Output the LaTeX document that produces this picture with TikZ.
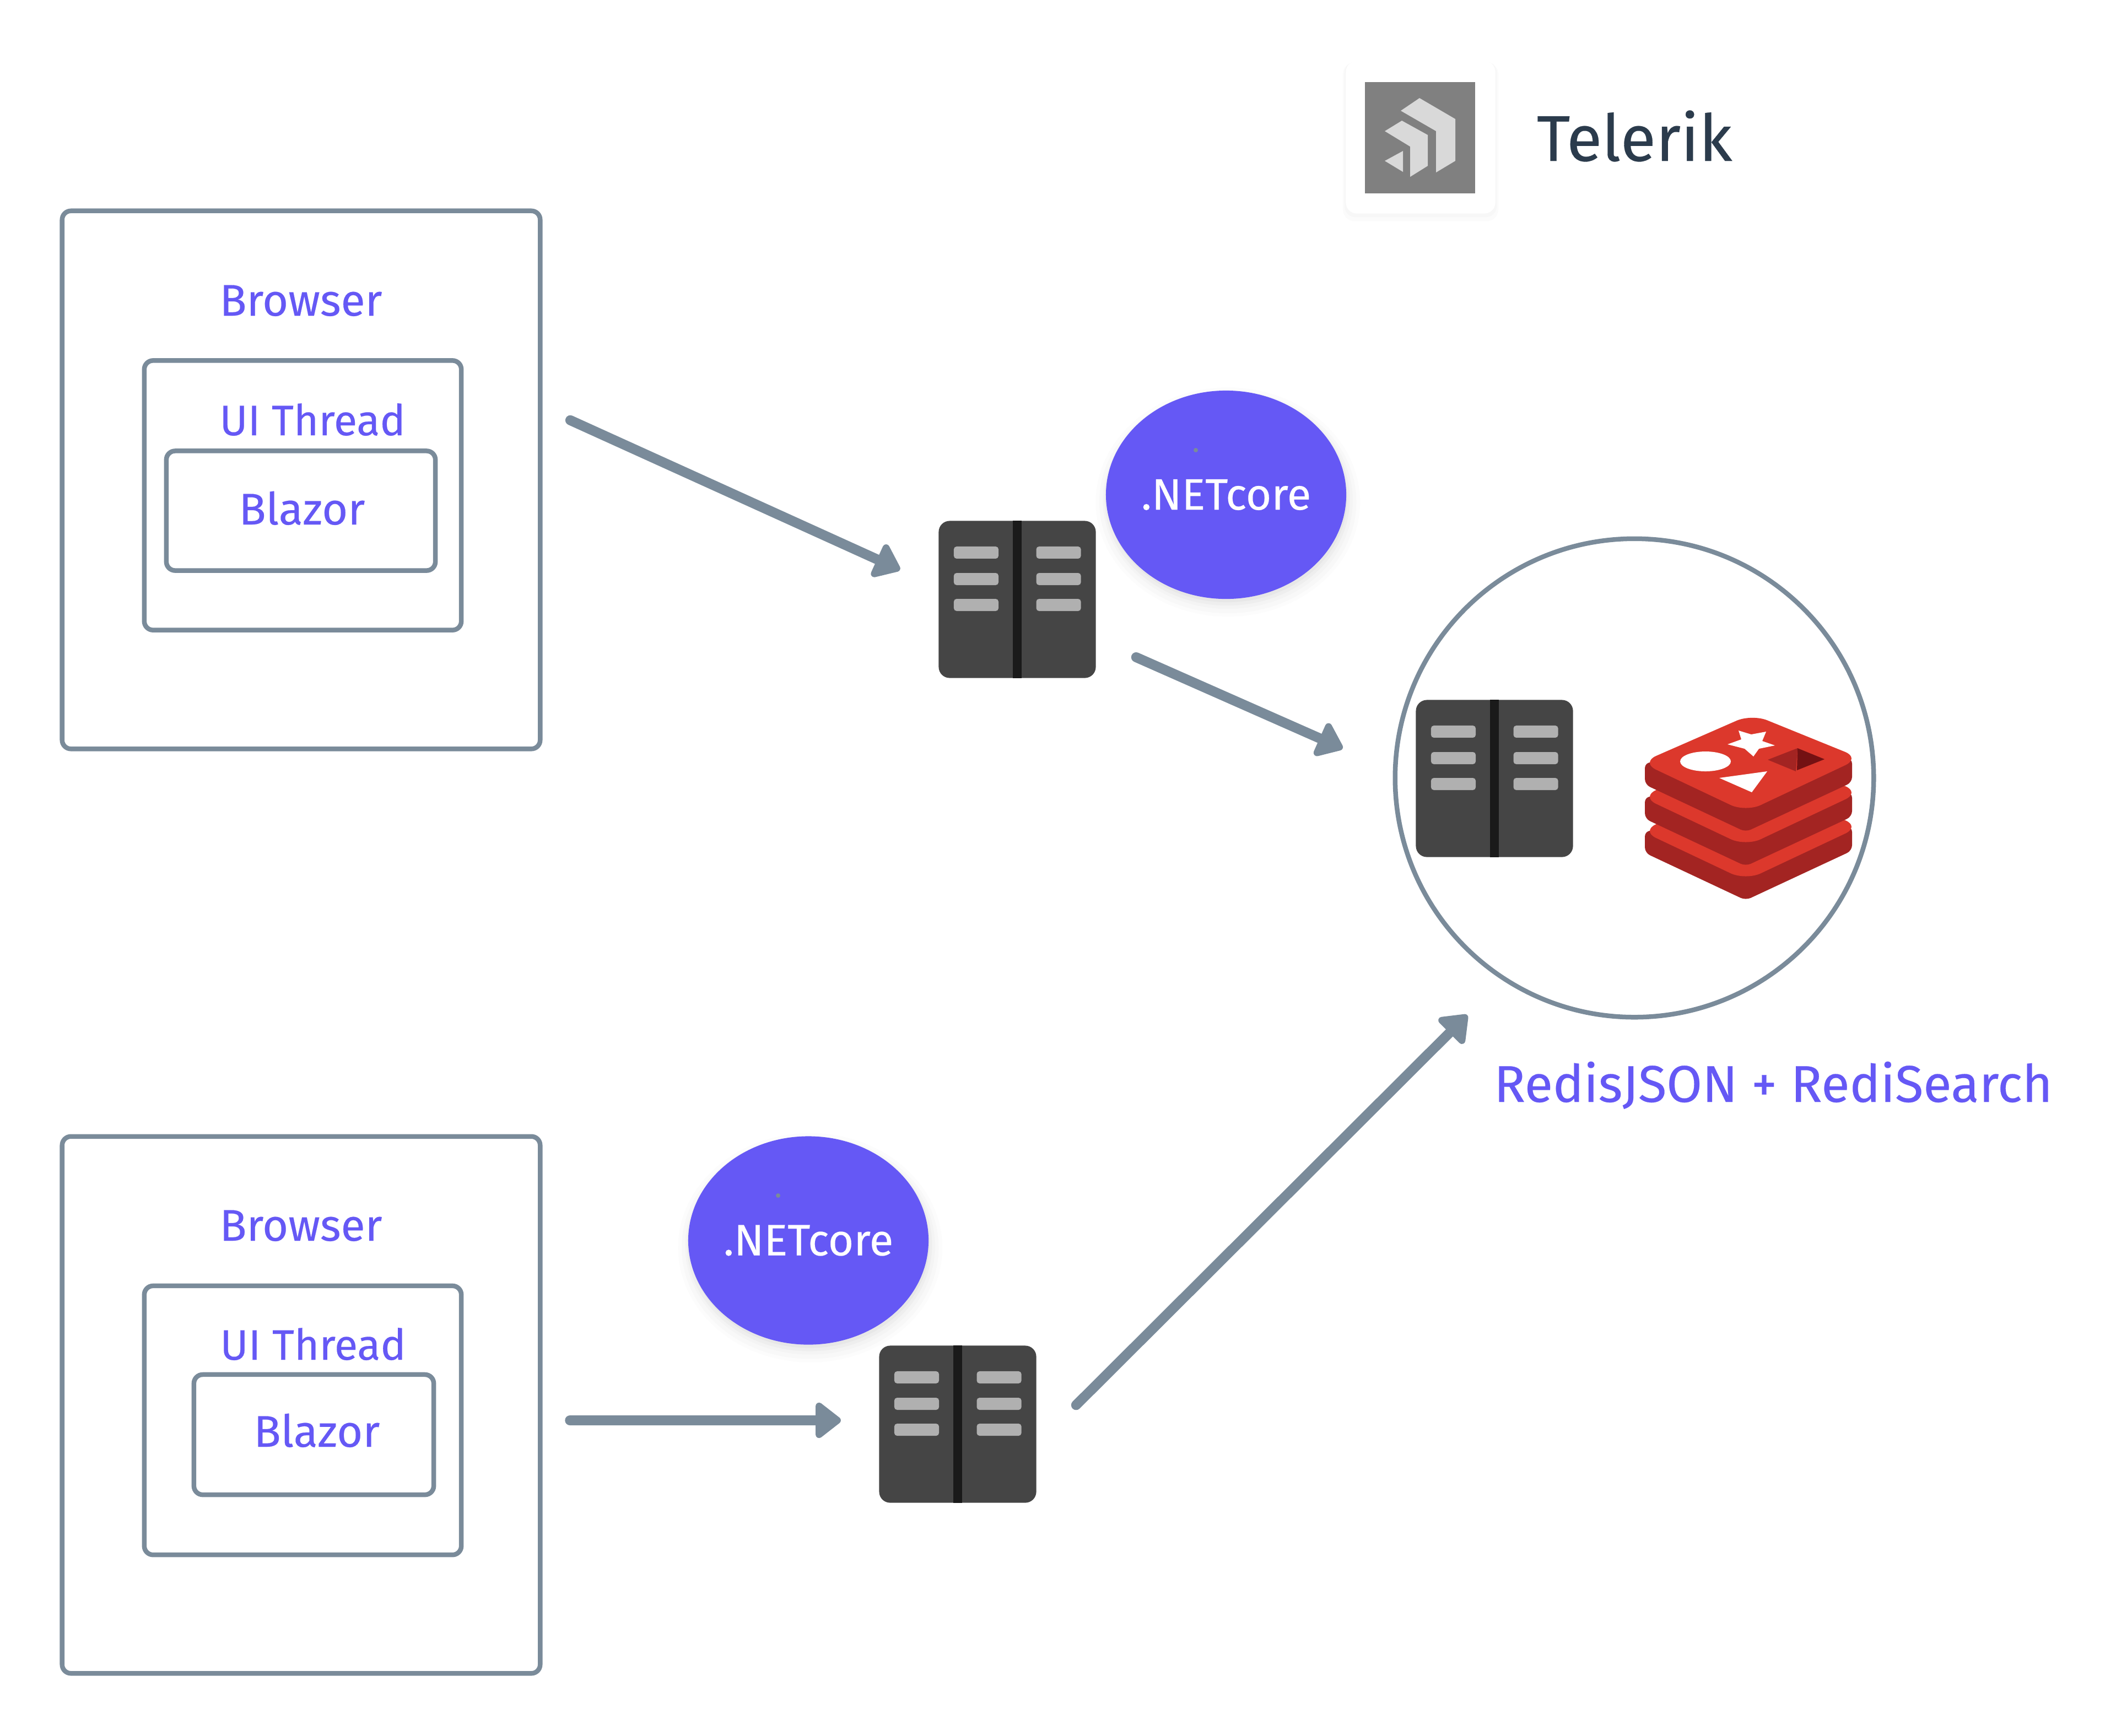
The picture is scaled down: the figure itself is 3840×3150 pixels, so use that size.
\documentclass[tikz,border=0pt]{standalone}
\usepackage{fontspec}
\setmainfont[FakeBold=0.25]{Fira Sans}
\usetikzlibrary{arrows.meta,shapes.geometric,shadows}

\definecolor{slate}{HTML}{7A8B9A}
\definecolor{violet}{HTML}{6558F5}
\definecolor{rackbody}{HTML}{454545}
\definecolor{rackdark}{HTML}{1A1A1A}
\definecolor{rackgrey}{HTML}{B0B0B0}
\definecolor{redisred}{HTML}{DC382C}
\definecolor{redisdark}{HTML}{A32422}
\definecolor{redisdeep}{HTML}{741113}
\definecolor{ink}{HTML}{2B3B4C}

\tikzset{
  box/.style={draw=slate, line width=0.085cm, rounded corners=0.16cm, outer sep=0pt, inner sep=0pt},
  label/.style={text=violet, font=\fontsize{22.9}{26}\selectfont, inner sep=0pt},
  threadlabel/.style={label, font=\fontsize{22}{26}\selectfont},
  softshadow/.style={
    drop shadow={shadow xshift=0.03cm, shadow yshift=-0.12cm, opacity=0.025, shadow scale=1.1},
    drop shadow={shadow xshift=0.03cm, shadow yshift=-0.12cm, opacity=0.03, shadow scale=1.07},
    drop shadow={shadow xshift=0.03cm, shadow yshift=-0.1cm, opacity=0.04, shadow scale=1.04},
    drop shadow={shadow xshift=0.02cm, shadow yshift=-0.08cm, opacity=0.05, shadow scale=1.02},
    drop shadow={shadow xshift=0.02cm, shadow yshift=-0.06cm, opacity=0.06}},
  netcore/.style={ellipse, fill=violet, text=white, font=\fontsize{22.7}{26}\selectfont,
    minimum width=4.34cm, minimum height=3.78cm, inner sep=0pt, outer sep=0pt, softshadow},
  rack/.style={fill=rackbody, rounded corners=0.2cm, minimum width=2.85cm, minimum height=2.85cm,
    inner sep=0pt, outer sep=0pt},
  flow/.style={draw=slate, line width=0.18cm, line cap=round,
    -{Triangle[length=0.5cm, width=0.74cm, round]}},
}

\newcommand{\rackslots}[1]{%
  \fill[rackdark] ([xshift=-0.08cm]#1.north) rectangle ([xshift=0.08cm]#1.south);
  \foreach \sx in {-0.745,0.75} \foreach \sy in {0.85,0.37,-0.1}
    \fill[rackgrey, rounded corners=0.05cm]
      ([xshift=\sx cm-0.405cm, yshift=\sy cm-0.11cm]#1.center) rectangle
      ([xshift=\sx cm+0.405cm, yshift=\sy cm+0.11cm]#1.center);
}

\begin{document}
\begin{tikzpicture}[x=0.01cm, y=-0.01cm]
  \useasboundingbox (0,0) rectangle (3840,3150);

  % telerik card
  \node[fill=white, rounded corners=0.2cm, minimum width=2.71cm, minimum height=2.77cm, inner sep=0pt,
    drop shadow={shadow xshift=0cm, shadow yshift=-0.08cm, opacity=0.03, shadow scale=1.04},
    drop shadow={shadow xshift=0cm, shadow yshift=-0.04cm, opacity=0.03, shadow scale=1.02}]
    (card) at (2578,249) {};
  \node[fill=black!50, minimum width=1.99cm, minimum height=2.01cm, inner sep=0pt] (mark) at (2577,250) {};
  \fill[black!15] (2576,178) -- (2641,216) -- (2641,292) -- (2606,313) -- (2606,238) -- (2542,201) -- cycle;
  \fill[black!15] (2544,219) -- (2591,245) -- (2591,301) -- (2559,321) -- (2559,266) -- (2513,238) -- cycle;
  \fill[black!15] (2546,274) -- (2513,292) -- (2546,312) -- cycle;
  \node[anchor=base west, text=ink, font=\fontsize{33.4}{40}\selectfont, inner sep=0pt] (telerik) at (2788,292) {Telerik};

  % first browser
  \node[box, minimum width=8.67cm, minimum height=9.76cm] (browserA) at (546.5,871) {};
  \node[box, minimum width=5.75cm, minimum height=4.89cm] (threadA) at (549.5,899) {};
  \node[box, minimum width=4.88cm, minimum height=2.17cm] (blazorA) at (546,927) {};
  \node[label, anchor=base] (browserTextA) at (546,573) {Browser};
  \node[threadlabel, anchor=base] (threadTextA) at (567,790) {UI Thread};
  \node[label, anchor=base] (blazorTextA) at (548,952) {Blazor};

  % second browser
  \node[box, minimum width=8.67cm, minimum height=9.74cm] (browserB) at (546.5,2550) {};
  \node[box, minimum width=5.75cm, minimum height=4.88cm] (threadB) at (549.5,2578) {};
  \node[box, minimum width=4.35cm, minimum height=2.18cm] (blazorB) at (569.5,2604) {};
  \node[label, anchor=base] (browserTextB) at (546,2252) {Browser};
  \node[threadlabel, anchor=base] (threadTextB) at (568,2468) {UI Thread};
  \node[label, anchor=base] (blazorTextB) at (575,2626) {Blazor};

  % servers
  \node[rack] (serverA) at (1846,1088) {};
  \rackslots{serverA}
  \node[rack] (serverB) at (1738,2585) {};
  \rackslots{serverB}

  \node[netcore] (coreA) at (2225,898) {.NETcore};
  \fill[slate] (2170,817) circle (4);
  \node[netcore] (coreB) at (1467,2251.5) {.NETcore};
  \fill[slate] (1412,2170) circle (4);

  % redis
  \node[circle, draw=slate, line width=0.085cm, minimum size=8.68cm, inner sep=0pt, outer sep=0pt] (redis) at (2966,1412) {};
  \node[rack] (serverC) at (2712,1413) {};
  \rackslots{serverC}
  \foreach \dy in {124,62,0} {
    \begin{scope}[shift={(0,\dy)}]
      \fill[redisdark, rounded corners=0.1cm] (2985,1384) -- (3361,1376) -- (3361,1420) -- (3168,1510) -- (2985,1424) -- cycle;
      \fill[redisred, rounded corners=0.3cm] (2978,1384) -- (3179,1296) -- (3376,1376) -- (3168,1474) -- cycle;
    \end{scope}
  }
  \fill[white] (3095,1382) ellipse (46 and 18);
  \fill[white] (3155,1326) -- (3178,1333) -- (3205,1328) -- (3198,1345) -- (3221,1353) -- (3192,1359)
    -- (3182,1373) -- (3166,1359) -- (3135,1351) -- (3160,1342) -- cycle;
  \fill[white] (3120,1412) -- (3207,1400) -- (3179,1438) -- cycle;
  \fill[redisdark] (3208,1379) -- (3262,1358) -- (3259,1400) -- cycle;
  \fill[redisdeep] (3262,1358) -- (3311,1378) -- (3261,1398) -- cycle;
  \node[label, anchor=base, font=\fontsize{26.7}{32}\selectfont] (redisText) at (3218,2000) {RedisJSON + RediSearch};

  % arrows
  \draw[flow, shorten <=0.6cm, shorten >=0.77cm] ([yshift=1.33cm]browserA.east) -- ([yshift=0.22cm]serverA.west);
  \draw[flow, shorten <=0.8cm, shorten >=1.04cm] ([yshift=-0.725cm]serverA.east) -- ([yshift=0.114cm]redis.west);
  \draw[flow, shorten <=0.54cm, shorten >=0.695cm] ([yshift=-0.28cm]browserB.east) -- ([yshift=0.07cm]serverB.west);
  \draw[flow, shorten <=1.02cm, shorten >=0.94cm] ([yshift=-0.373cm]serverB.east) -- ([xshift=-2.366cm, yshift=-3.638cm]redis.center);
\end{tikzpicture}
\end{document}
